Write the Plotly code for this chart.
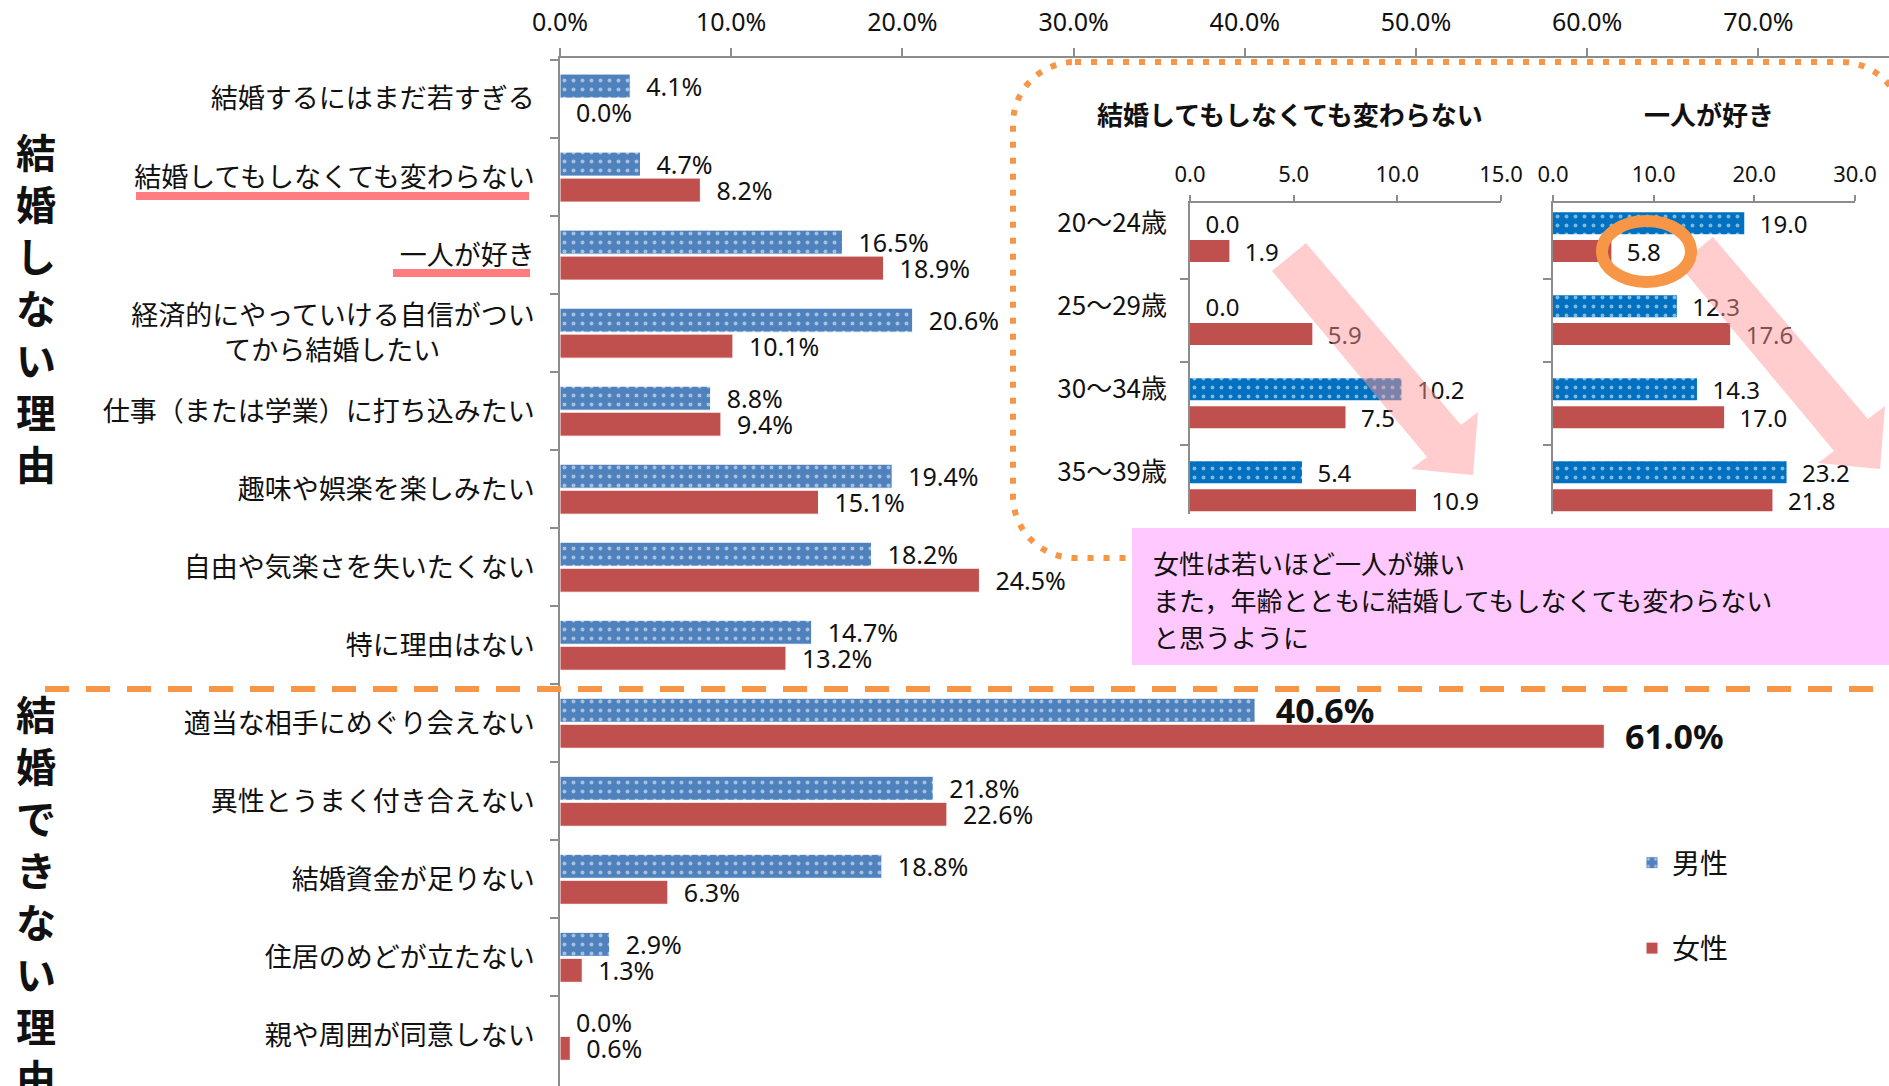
import plotly.graph_objects as go

W, H = 1889, 1086
JP = "Noto Sans CJK JP"
NUM = "Noto Sans, Noto Sans CJK JP"
TXT = "#111111"
AXC = "#8C8C8C"
ORANGE = "#F79646"

# ---------------- data ----------------
categories = [
    "結婚するにはまだ若すぎる",
    "結婚してもしなくても変わらない",
    "一人が好き",
    "経済的にやっていける自信がつい<br>てから結婚したい\u3000\u3000\u3000\u2002",
    "仕事（または学業）に打ち込みたい",
    "趣味や娯楽を楽しみたい",
    "自由や気楽さを失いたくない",
    "特に理由はない",
    "適当な相手にめぐり会えない",
    "異性とうまく付き合えない",
    "結婚資金が足りない",
    "住居のめどが立たない",
    "親や周囲が同意しない",
]
male_pct = [4.1, 4.7, 16.5, 20.6, 8.8, 19.4, 18.2, 14.7, 40.6, 21.8, 18.8, 2.9, 0.0]
female_pct = [0.0, 8.2, 18.9, 10.1, 9.4, 15.1, 24.5, 13.2, 61.0, 22.6, 6.3, 1.3, 0.6]
highlight_category = "適当な相手にめぐり会えない"
main_ticks = [0, 10, 20, 30, 40, 50, 60, 70]
main_tick_labels = [f"{v:.1f}%" for v in main_ticks]

ages = ["20〜24歳", "25〜29歳", "30〜34歳", "35〜39歳"]
same_male = [0.0, 0.0, 10.2, 5.4]
same_female = [1.9, 5.9, 7.5, 10.9]
alone_male = [19.0, 12.3, 14.3, 23.2]
alone_female = [5.8, 17.6, 17.0, 21.8]
same_ticks = [0, 5, 10, 15]
alone_ticks = [0, 10, 20, 30]

inset_title_same = "結婚してもしなくても変わらない"
inset_title_alone = "一人が好き"
group_label_top = "結婚しない理由"
group_label_bottom = "結婚できない理由"
note_lines = ["女性は若いほど一人が嫌い",
              "また，年齢とともに結婚してもしなくても変わらない",
              "と思うように"]

# ---------------- helpers ----------------
def px(x):
    return x / W

def py(y):
    return 1 - y / H

def pt(x, y):
    return f"{px(x):.5f},{py(y):.5f}"

PAD = "\u00a0\u00a0"

def main_labels(vals):
    out = []
    for c, v in zip(categories, vals):
        if c == highlight_category:
            out.append(f"{PAD}<b>{v:.1f}%</b>")
        else:
            out.append(f"{PAD}{v:.1f}%")
    return out

def main_sizes():
    return [34 if c == highlight_category else 25 for c in categories]

fig = go.Figure()

MAIN_BLUE = "#4F81BD"
RED = "#C0504D"
INSET_BLUE = "#0070C0"

# main chart
fig.add_trace(go.Bar(
    y=categories, x=male_pct, orientation="h", name="男性",
    legendgroup="m",
    marker=dict(color=MAIN_BLUE, line=dict(color="white", width=1),
                pattern=dict(shape=".", fgcolor="white", size=9, solidity=0.15, fillmode="overlay")),
    width=0.308, offset=-0.32,
    text=main_labels(male_pct), textposition="outside",
    textfont=dict(family=NUM, size=main_sizes(), color=TXT),
    constraintext="none", cliponaxis=False,
    xaxis="x", yaxis="y", hoverinfo="skip",
))
fig.add_trace(go.Bar(
    y=categories, x=female_pct, orientation="h", name="女性",
    legendgroup="f",
    marker=dict(color=RED, line=dict(color="white", width=1)),
    width=0.308, offset=0.013,
    text=main_labels(female_pct), textposition="outside",
    textfont=dict(family=NUM, size=main_sizes(), color=TXT),
    constraintext="none", cliponaxis=False,
    xaxis="x", yaxis="y", hoverinfo="skip",
))

def inset_text(vals):
    return [f"{PAD}{v:.1f}" for v in vals]

for xa, ya, mv, fv in [("x2", "y2", same_male, same_female), ("x3", "y3", alone_male, alone_female)]:
    fig.add_trace(go.Bar(
        y=ages, x=mv, orientation="h", showlegend=False,
        marker=dict(color=INSET_BLUE, line=dict(width=0),
                    pattern=dict(shape=".", fgcolor="white", size=9, solidity=0.15, fillmode="overlay")),
        width=0.265, offset=-0.30,
        text=inset_text(mv), textposition="outside",
        textfont=dict(family=NUM, size=24, color=TXT),
        constraintext="none", cliponaxis=False,
        xaxis=xa, yaxis=ya, hoverinfo="skip",
    ))
    fig.add_trace(go.Bar(
        y=ages, x=fv, orientation="h", showlegend=False,
        marker=dict(color=RED, line=dict(width=0)),
        width=0.265, offset=0.036,
        text=inset_text(fv), textposition="outside",
        textfont=dict(family=NUM, size=24, color=TXT),
        constraintext="none", cliponaxis=False,
        xaxis=xa, yaxis=ya, hoverinfo="skip",
    ))

main_xmax = (W - 560) / 171.2 * 10

fig.update_layout(
    width=W, height=H, template="none",
    margin=dict(l=0, r=0, t=0, b=0, autoexpand=False),
    paper_bgcolor="white", plot_bgcolor="rgba(0,0,0,0)",
    barmode="group",
    showlegend=True,
    legend=dict(x=px(1632), y=py(838), xanchor="left", yanchor="top",
                font=dict(family=JP, size=28, color=TXT),
                tracegroupgap=46, bgcolor="rgba(0,0,0,0)"),
    xaxis=dict(domain=[px(560), 1], range=[0, main_xmax], side="top", anchor="y",
               tickmode="array", tickvals=main_ticks, ticktext=main_tick_labels,
               showline=True, linecolor=AXC, linewidth=1.5, ticks="outside",
               ticklen=8, tickcolor=AXC, tickwidth=1.5, showgrid=False, zeroline=False,
               ticklabelstandoff=7,
               tickfont=dict(family=NUM, size=25, color=TXT), automargin=False),
    yaxis=dict(domain=[0, py(58)], type="category", range=[12.65, -0.526], anchor="x",
               showline=True, linecolor=AXC, linewidth=1.5, ticks="outside",
               tickson="boundaries", ticklen=8, tickcolor=AXC, tickwidth=1.5,
               showgrid=False, zeroline=False, ticklabelstandoff=18,
               tickfont=dict(family=JP, size=27, color=TXT), automargin=False),
    xaxis2=dict(domain=[px(1190), px(1501)], range=[0, 15], side="top", anchor="y2",
                tickmode="array", tickvals=same_ticks, ticktext=[f"{v:.1f}" for v in same_ticks],
                showline=True, linecolor=AXC, linewidth=1.5, ticks="outside",
                ticklen=6, tickcolor=AXC, tickwidth=1.5, showgrid=False, zeroline=False,
                ticklabelstandoff=4,
                tickfont=dict(family=NUM, size=22, color=TXT), automargin=False),
    yaxis2=dict(domain=[py(514), py(203)], type="category", range=[3.335, -0.41], anchor="x2",
                showline=True, linecolor=AXC, linewidth=1.5, ticks="outside",
                tickson="boundaries", ticklen=8, tickcolor=AXC, tickwidth=1.5,
                showgrid=False, zeroline=False, ticklabelstandoff=16, ticklabelshift=14,
                tickfont=dict(family=JP, size=26, color=TXT), automargin=False),
    xaxis3=dict(domain=[px(1553), px(1855)], range=[0, 30], side="top", anchor="y3",
                tickmode="array", tickvals=alone_ticks, ticktext=[f"{v:.1f}" for v in alone_ticks],
                showline=True, linecolor=AXC, linewidth=1.5, ticks="outside",
                ticklen=6, tickcolor=AXC, tickwidth=1.5, showgrid=False, zeroline=False,
                ticklabelstandoff=4,
                tickfont=dict(family=NUM, size=22, color=TXT), automargin=False),
    yaxis3=dict(domain=[py(514), py(203)], type="category", range=[3.335, -0.41], anchor="x3",
                showline=True, linecolor=AXC, linewidth=1.5, ticks="outside",
                tickson="boundaries", ticklen=8, tickcolor=AXC, tickwidth=1.5,
                showgrid=False, zeroline=False, showticklabels=False, automargin=False),
)

shapes = []
# dotted rounded rectangle
x0, y0, x1, y1, r, k = 1013, 62, 1903, 558, 62, 0.5523
path = (f"M{pt(x0 + r, y0)} L{pt(x1 - r, y0)} "
        f"C{pt(x1 - r + k * r, y0)} {pt(x1, y0 + r - k * r)} {pt(x1, y0 + r)} "
        f"L{pt(x1, y1 - r)} "
        f"C{pt(x1, y1 - r + k * r)} {pt(x1 - r + k * r, y1)} {pt(x1 - r, y1)} "
        f"L{pt(x0 + r, y1)} "
        f"C{pt(x0 + r - k * r, y1)} {pt(x0, y1 - r + k * r)} {pt(x0, y1 - r)} "
        f"L{pt(x0, y0 + r)} "
        f"C{pt(x0, y0 + r - k * r)} {pt(x0 + r - k * r, y0)} {pt(x0 + r, y0)} Z")
shapes.append(dict(type="path", xref="paper", yref="paper", path=path,
                   line=dict(color=ORANGE, width=6, dash="6px,10px"), fillcolor="rgba(0,0,0,0)"))
# dashed separator
shapes.append(dict(type="line", xref="paper", yref="paper", x0=px(45), x1=1, y0=py(689), y1=py(689),
                   line=dict(color=ORANGE, width=6, dash="24px,17px")))
# underlines
for ux0, ux1, uy0, uy1 in [(136, 529, 192, 200), (393, 530, 269, 277)]:
    shapes.append(dict(type="rect", xref="paper", yref="paper", x0=px(ux0), x1=px(ux1),
                       y0=py(uy1), y1=py(uy0), fillcolor="#FF7C80", line=dict(width=0), layer="below"))
# pink note box
shapes.append(dict(type="rect", xref="paper", yref="paper", x0=px(1132), x1=1, y0=py(665), y1=py(528),
                   fillcolor="#FFC9FF", line=dict(width=0)))
# arrows
arrow = [(1306, 243), (1461, 425), (1478, 412), (1473, 475), (1411, 469), (1427, 457), (1272, 271)]
for dx, dy in [(0, 0), (407, -6)]:
    pts = [pt(ax + dx, ay + dy) for ax, ay in arrow]
    shapes.append(dict(type="path", xref="paper", yref="paper",
                       path="M" + " L".join(pts) + " Z",
                       fillcolor="rgba(255,150,150,0.48)", line=dict(width=0)))
# orange circle
shapes.append(dict(type="circle", xref="paper", yref="paper", x0=px(1602), x1=px(1691),
                   y0=py(282), y1=py(221), line=dict(color=ORANGE, width=12)))
fig.update_layout(shapes=shapes)

ann = []
ann.append(dict(xref="paper", yref="paper", x=px(36), y=py(307), text="<br>".join(group_label_top),
                showarrow=False, font=dict(family=JP, size=40, color=TXT, weight=700),
                xanchor="center", yanchor="middle"))
ann.append(dict(xref="paper", yref="paper", x=px(36), y=py(895), text="<br>".join(group_label_bottom),
                showarrow=False, font=dict(family=JP, size=40, color=TXT, weight=700),
                xanchor="center", yanchor="middle"))
ann.append(dict(xref="paper", yref="paper", x=px(1290), y=py(114), text=inset_title_same,
                showarrow=False, font=dict(family=JP, size=26, color=TXT, weight=700),
                xanchor="center", yanchor="middle"))
ann.append(dict(xref="paper", yref="paper", x=px(1709), y=py(114), text=inset_title_alone,
                showarrow=False, font=dict(family=JP, size=26, color=TXT, weight=700),
                xanchor="center", yanchor="middle"))
for line, ly in zip(note_lines, [562, 599, 636]):
    ann.append(dict(xref="paper", yref="paper", x=px(1151), y=py(ly), text=line,
                    showarrow=False, font=dict(family=JP, size=26, color=TXT),
                    xanchor="left", yanchor="middle"))
fig.update_layout(annotations=ann)

fig.write_html("out.html", config={"displayModeBar": False},
               post_script="document.body.style.margin='0';document.body.style.overflow='hidden';")
